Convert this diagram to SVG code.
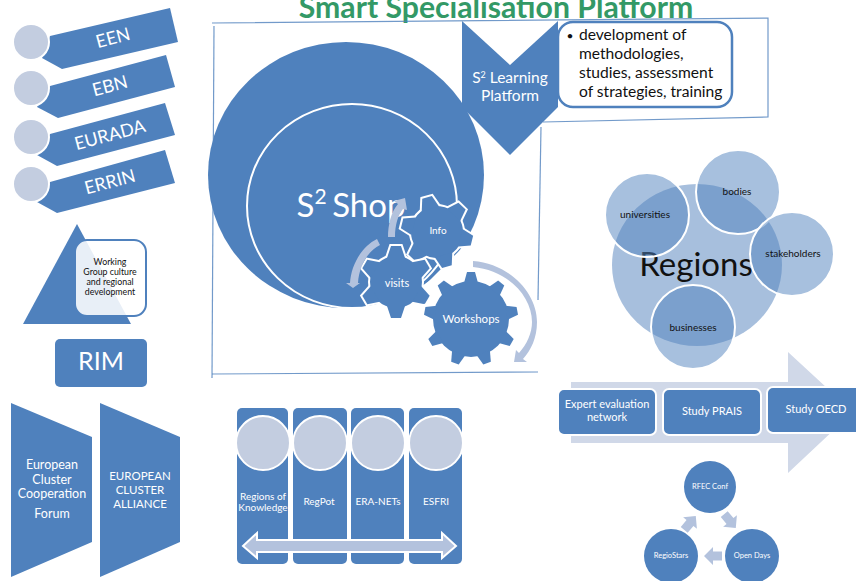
<svg xmlns="http://www.w3.org/2000/svg" xmlns:xlink="http://www.w3.org/1999/xlink" width="856" height="581" viewBox="0 0 856 581">
<style>
text{font-family:"Lato","Open Sans","Liberation Sans",sans-serif;text-anchor:middle}
.b{fill:#4f81bd}
.l{fill:#c3cde0;stroke:#fff;stroke-width:2}
.a{fill:#b3c2dd}
.w{fill:#fff}
.k{fill:#111}
.f{fill:none;stroke:#4f81bd;stroke-width:1.2;opacity:.8}
.r{fill:#4f81bd;fill-opacity:.5;stroke:#fff;stroke-width:2}
.t{fill:#4f81bd;stroke:#fff;stroke-width:2}
</style>
<defs>
<g id="g6"><circle r="26"/><g id="t6"><polygon points="-5,-36 5,-36 9,-24 -9,-24"/></g>
<use href="#t6" transform="rotate(60)"/><use href="#t6" transform="rotate(120)"/><use href="#t6" transform="rotate(180)"/><use href="#t6" transform="rotate(240)"/><use href="#t6" transform="rotate(300)"/></g>
<g id="g9"><circle r="38"/><g id="t9"><polygon points="-4,-47 4,-47 7,-36 -7,-36"/></g>
<use href="#t9" transform="rotate(40)"/><use href="#t9" transform="rotate(80)"/><use href="#t9" transform="rotate(120)"/><use href="#t9" transform="rotate(160)"/><use href="#t9" transform="rotate(200)"/><use href="#t9" transform="rotate(240)"/><use href="#t9" transform="rotate(280)"/><use href="#t9" transform="rotate(320)"/></g>
<polygon id="sa" points="-9,-4.5 0,-4.5 0,-9 9,0 0,9 0,4.5 -9,4.5"/>
</defs>

<text x="496" y="18" font-size="30.2" font-weight="700" fill="#339966">Smart Specialisation Platform</text>

<g id="connectors">
<path class="f" d="M212,23 L768,18 L768,117 L543,122"/>
<path class="f" d="M214,26 L212,378"/>
<path class="f" d="M212,374 L538,372"/>
<path class="f" d="M541,127 L538,300"/>
</g>

<g id="een"><polygon class="b" points="50,36 170,8 178,42 62,69 42,58"/><circle class="l" cx="31" cy="42" r="18"/><text class="w" x="113" y="44" font-size="18" transform="rotate(-15 113 38)">EEN</text></g>
<g id="ebn"><polygon class="b" points="50,86 166,55 175,87 58,118 37,107"/><circle class="l" cx="31" cy="88" r="18"/><text class="w" x="110" y="92" font-size="18" transform="rotate(-15 110 86)">EBN</text></g>
<g id="eurada"><polygon class="b" points="50,134 165,103 175,135 57,166 37,155"/><circle class="l" cx="31" cy="137" r="18"/><text class="w" x="110" y="141" font-size="18" transform="rotate(-15 110 135)">EURADA</text></g>
<g id="errin"><polygon class="b" points="50,182 165,150 175,183 57,213 37,202"/><circle class="l" cx="31" cy="184" r="18"/><text class="w" x="110" y="188" font-size="18" transform="rotate(-15 110 182)">ERRIN</text></g>

<g id="working-group">
<polygon class="b" points="77,224 131,324 23,324"/>
<rect x="75" y="240" width="71" height="76" rx="12" fill="#fff" fill-opacity=".87" stroke="#4f81bd" stroke-width="2"/>
<text class="k" font-size="8.8"><tspan x="110" y="265">Working</tspan><tspan x="110" y="275">Group culture</tspan><tspan x="110" y="285">and regional</tspan><tspan x="110" y="295">development</tspan></text>
</g>

<g id="rim"><rect class="b" x="55" y="339" width="92" height="48" rx="5"/><text class="w" x="101" y="370" font-size="25">RIM</text></g>

<g id="cluster-forum"><polygon class="b" points="11,403 92,437 92,542 11,577"/><text class="w" font-size="12.5"><tspan x="52" y="469">European</tspan><tspan x="52" y="484">Cluster</tspan><tspan x="52" y="498">Cooperation</tspan><tspan x="52" y="518">Forum</tspan></text></g>
<g id="cluster-alliance"><polygon class="b" points="100,403 180,437 180,542 100,577"/><text class="w" font-size="11.5"><tspan x="140" y="480">EUROPEAN</tspan><tspan x="140" y="494">CLUSTER</tspan><tspan x="140" y="508">ALLIANCE</tspan></text></g>

<g id="s2-shop">
<ellipse class="b" cx="346" cy="175" rx="138" ry="133"/>
<ellipse cx="352" cy="206" rx="105" ry="102" fill="none" stroke="#fff" stroke-width="2"/>
<polygon class="w" points="487,232 472,238 463,247 423,287 405,308 345,309 345,325 487,330"/>
<text class="w" x="351" y="217" font-size="33">S<tspan font-size="21" dy="-13">2</tspan><tspan dy="13" dx="-3"> Shop</tspan></text>
</g>

<g id="learning-platform">
<rect x="558" y="22" width="174" height="85" rx="15" fill="#fff" stroke="#4f81bd" stroke-width="2.5"/>
<polygon class="b" points="462,21 510,65 558,21 558,107 510,155 462,107"/>
<text class="w" font-size="15.5"><tspan x="510" y="83">S</tspan><tspan font-size="9" dy="-5">2</tspan><tspan dy="5"> Learning</tspan><tspan x="510" y="101">Platform</tspan></text>
<g class="k" font-size="15.6"><text x="570" y="40" font-size="12">•</text><text x="579" y="40" style="text-anchor:start">development of</text><text x="579" y="59" style="text-anchor:start">methodologies,</text><text x="579" y="78" style="text-anchor:start">studies, assessment</text><text x="579" y="97" style="text-anchor:start">of strategies, training</text></g>
</g>

<g id="gear-info"><use href="#g6" transform="translate(437,232) rotate(-16)" fill="#fff" stroke="#fff" stroke-width="4"/><use href="#g6" class="b" transform="translate(437,232) rotate(-16)"/><text class="w" x="438" y="234" font-size="10">Info</text></g>
<g id="gear-visits"><use href="#g6" transform="translate(396,282)" fill="#fff" stroke="#fff" stroke-width="4"/><use href="#g6" class="b" transform="translate(396,282)"/><text class="w" x="397" y="287" font-size="11">visits</text></g>
<g id="gear-workshops"><use href="#g9" transform="translate(471,319)" fill="#fff" stroke="#fff" stroke-width="6"/><use href="#g9" class="b" transform="translate(471,319)"/><text class="w" x="471" y="323" font-size="11.5">Workshops</text></g>

<g id="gear-arrows">
<path class="a" d="M388,237 L395,237 C395,225 398,215 403,209 L407,210 L405,198 L394,201 L398,204 C391,212 388,225 388,237Z"/>
<path class="a" d="M377,239 L380,245 C369,250 359,265 358,283 L360,283 L353,288 L346,283 L350,283 C351,265 362,246 377,239Z"/>
<path class="a" d="M473,261 C510,264 537,293 537,322 C537,338 531,350 523,359 L527,362 L514,362 L516,350 L519,353 C527,344 532,333 532,322 C532,296 507,270 473,267Z"/>
</g>

<g id="regions">
<ellipse cx="697" cy="265" rx="85" ry="81" fill="#a7bfdd"/>
<text class="k" x="696" y="276" font-size="33">Regions</text>
<circle class="r" cx="647" cy="215" r="42"/><circle class="r" cx="738" cy="192" r="42"/><circle class="r" cx="792" cy="254" r="42"/><circle class="r" cx="693" cy="327" r="42"/>
<g class="k" font-size="10"><text x="645" y="218">universities</text><text x="737" y="195">bodies</text><text x="793" y="257">stakeholders</text><text x="693" y="331">businesses</text></g>
</g>

<g id="studies">
<polygon fill="#d0d8e8" points="571,382 788,382 788,352 853,412 788,473 788,443 571,443"/>
<rect class="t" x="558" y="389" width="98" height="46" rx="6"/>
<rect class="t" x="663" y="389" width="98" height="46" rx="6"/>
<rect class="t" x="767" y="387" width="100" height="46" rx="6"/>
<g class="w" font-size="11"><text x="607" y="408">Expert evaluation</text><text x="607" y="421">network</text><text x="712" y="415">Study PRAIS</text><text x="816" y="413">Study OECD</text></g>
</g>

<g id="events">
<circle class="b" cx="710" cy="487" r="26"/><circle class="b" cx="671" cy="556" r="27"/><circle class="b" cx="752" cy="556" r="27"/>
<use href="#sa" class="a" transform="translate(730,521) rotate(50)"/><use href="#sa" class="a" transform="translate(713,556) rotate(180)"/><use href="#sa" class="a" transform="translate(690,523) rotate(-50)"/>
<g class="w" font-size="7.5"><text x="710" y="489">RFEC Conf</text><text x="671" y="558">RegioStars</text><text x="752" y="558">Open Days</text></g>
</g>

<g id="programmes">
<rect class="b" x="237" y="408" width="51" height="156" rx="5"/><rect class="b" x="293" y="408" width="54" height="156" rx="5"/><rect class="b" x="351" y="408" width="53" height="156" rx="5"/><rect class="b" x="409" y="408" width="53" height="156" rx="5"/>
<circle class="l" cx="263" cy="443" r="27"/><circle class="l" cx="320" cy="443" r="27"/><circle class="l" cx="378" cy="443" r="27"/><circle class="l" cx="436" cy="443" r="27"/>
<g class="w" font-size="10"><text x="263" y="500">Regions of</text><text x="263" y="511">Knowledge</text><text x="319" y="505">RegPot</text><text x="378" y="505">ERA-NETs</text><text x="436" y="505">ESFRI</text></g>
<polygon class="a" stroke="#fff" stroke-width="2" points="243,546 257,533 257,540 442,540 442,533 456,546 442,558 442,552 257,552 257,558"/>
</g>
</svg>
